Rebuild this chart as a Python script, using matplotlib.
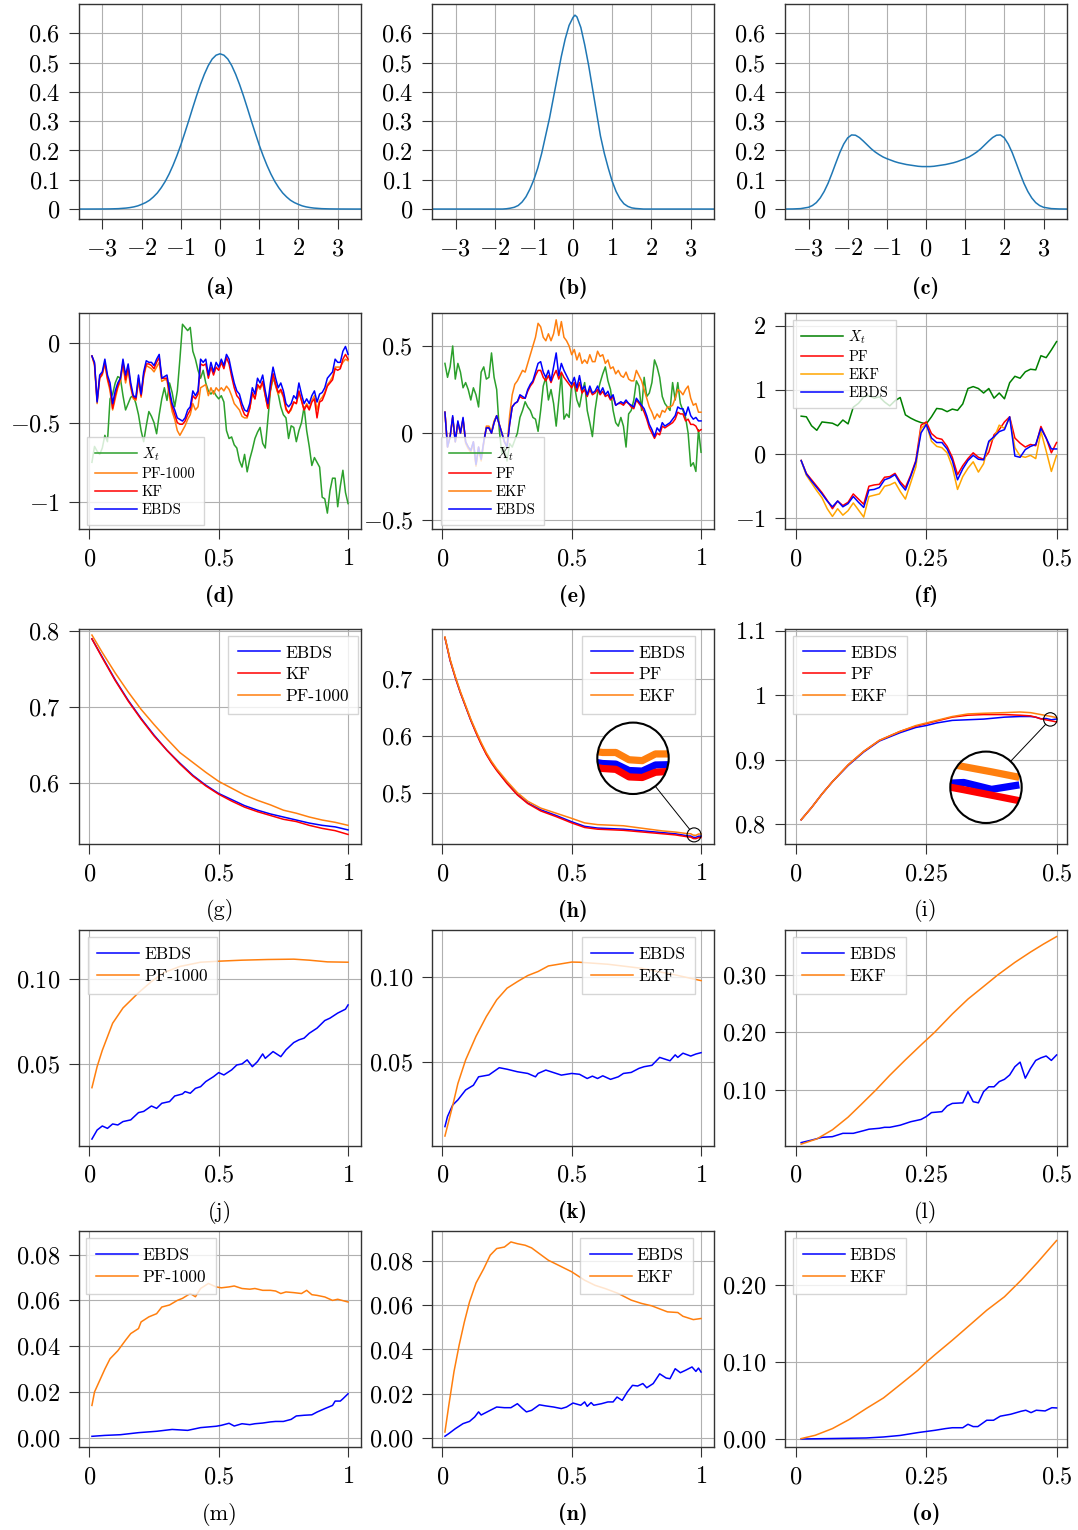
import numpy as np
import matplotlib.pyplot as plt
from matplotlib.patches import Circle, Ellipse
from matplotlib.lines import Line2D

plt.rcParams['font.family'] = 'serif'
plt.rcParams['font.serif'] = ['cmr10', 'DejaVu Serif']
plt.rcParams['mathtext.fontset'] = 'cm'
plt.rcParams['axes.formatter.use_mathtext'] = True

W, H = 1078, 1530

# ---------------- row 1: densities ----------------
a_x = [-3.6, -3.4, -3.2, -3.0, -2.8, -2.6, -2.4, -2.3, -2.2, -2.1, -2.0, -1.9, -1.8, -1.7, -1.6,
       -1.5, -1.4, -1.3, -1.2, -1.1, -1.0, -0.9, -0.8, -0.7, -0.6, -0.5, -0.4, -0.3, -0.2, -0.1,
       0.0, 0.1, 0.2, 0.3, 0.4, 0.5, 0.6, 0.7, 0.8, 0.9, 1.0, 1.1, 1.2, 1.3, 1.4, 1.5, 1.6, 1.7,
       1.8, 1.9, 2.0, 2.1, 2.2, 2.3, 2.4, 2.6, 2.8, 3.0, 3.2, 3.4, 3.6]
dens_a = [0, 0, 0.0001, 0.0002, 0.0005, 0.0013, 0.0033, 0.0050, 0.0074, 0.0108, 0.016, 0.022,
          0.030, 0.0414, 0.055, 0.0729, 0.094, 0.1194, 0.149, 0.1823, 0.219, 0.2594, 0.301,
          0.3441, 0.386, 0.4251, 0.460, 0.4896, 0.512, 0.5253, 0.530, 0.5253, 0.512, 0.4896,
          0.460, 0.4251, 0.386, 0.3441, 0.301, 0.2594, 0.219, 0.1823, 0.149, 0.1194, 0.094,
          0.0729, 0.055, 0.0414, 0.030, 0.022, 0.016, 0.0108, 0.0074, 0.0050, 0.0033, 0.0013,
          0.0005, 0.0002, 0.0001, 0, 0]
b_x = [-3.6, -3.0, -2.4, -2.0, -1.8, -1.7, -1.6, -1.5, -1.4, -1.3, -1.2, -1.1, -1.0, -0.9, -0.8,
       -0.7, -0.6, -0.5, -0.4, -0.3, -0.2, -0.1, 0.0, 0.05, 0.1, 0.2, 0.3, 0.4, 0.5, 0.6, 0.7,
       0.8, 0.9, 1.0, 1.1, 1.2, 1.3, 1.4, 1.5, 1.6, 1.7, 1.8, 2.0, 2.4, 3.0, 3.6]
dens_b = [0, 0, 0, 0, 0.0, 0.001, 0.003, 0.006, 0.012, 0.024, 0.042, 0.068, 0.10, 0.14, 0.19,
          0.25, 0.31, 0.38, 0.45, 0.52, 0.58, 0.627, 0.654, 0.662, 0.656, 0.62, 0.56, 0.49, 0.41,
          0.33, 0.25, 0.19, 0.14, 0.095, 0.06, 0.035, 0.018, 0.009, 0.004, 0.002, 0.001, 0.0,
          0, 0, 0, 0]
c_x = [-3.6, -3.4, -3.2, -3.0, -2.9, -2.8, -2.7, -2.6, -2.5, -2.4, -2.3, -2.2, -2.1, -2.0, -1.9,
       -1.8, -1.7, -1.6, -1.5, -1.4, -1.3, -1.2, -1.1, -1.0, -0.9, -0.8, -0.7, -0.6, -0.5, -0.4,
       -0.3, -0.2, -0.1, 0.0, 0.1, 0.2, 0.3, 0.4, 0.5, 0.6, 0.7, 0.8, 0.9, 1.0, 1.1, 1.2, 1.3,
       1.4, 1.5, 1.6, 1.7, 1.8, 1.9, 2.0, 2.1, 2.2, 2.3, 2.4, 2.5, 2.6, 2.7, 2.8, 2.9, 3.0, 3.2,
       3.4, 3.6]
dens_c = [0, 0.0003, 0.0015, 0.006, 0.012, 0.022, 0.038, 0.060, 0.088, 0.122, 0.158, 0.193,
          0.222, 0.243, 0.253, 0.252, 0.244, 0.232, 0.219, 0.206, 0.195, 0.186, 0.178, 0.172,
          0.167, 0.162, 0.158, 0.155, 0.152, 0.150, 0.148, 0.146, 0.145, 0.145, 0.145, 0.146,
          0.148, 0.150, 0.152, 0.155, 0.158, 0.162, 0.167, 0.172, 0.178, 0.186, 0.195, 0.206,
          0.219, 0.232, 0.244, 0.252, 0.253, 0.243, 0.222, 0.193, 0.158, 0.122, 0.088, 0.060,
          0.038, 0.022, 0.012, 0.006, 0.0015, 0.0003, 0]

# ---------------- row 2: trajectories ----------------
t100 = np.linspace(0.01, 1.0, 100)
t50 = np.linspace(0.01, 0.5, 50)

d_xt = [-0.75, -0.65, -0.68, -0.70, -0.66, -0.58, -0.62, -0.35, -0.32, -0.25,
        -0.21, -0.22, -0.33, -0.42, -0.38, -0.34, -0.33, -0.38, -0.45, -0.55,
        -0.62, -0.52, -0.43, -0.46, -0.50, -0.57, -0.45, -0.35, -0.28, -0.36,
        -0.25, -0.31, -0.40, -0.30, -0.10, 0.12, 0.10, 0.08, 0.10, -0.05,
        -0.10, -0.17, -0.22, -0.17, -0.25, -0.30, -0.32, -0.30, -0.33, -0.35,
        -0.33, -0.37, -0.55, -0.60, -0.59, -0.64, -0.66, -0.74, -0.78, -0.70,
        -0.81, -0.73, -0.67, -0.60, -0.56, -0.53, -0.63, -0.66, -0.48, -0.30,
        -0.22, -0.26, -0.32, -0.40, -0.45, -0.47, -0.60, -0.52, -0.53, -0.62,
        -0.55, -0.50, -0.40, -0.55, -0.65, -0.77, -0.72, -0.75, -0.78, -0.97,
        -0.98, -1.07, -0.93, -0.85, -0.85, -1.03, -0.90, -0.80, -0.94, -1.01]
d_ebds = [-0.08, -0.12, -0.37, -0.20, -0.18, -0.10, -0.20, -0.25, -0.38, -0.30,
          -0.25, -0.22, -0.10, -0.20, -0.13, -0.25, -0.33, -0.34, -0.20, -0.32,
          -0.18, -0.11, -0.12, -0.12, -0.14, -0.10, -0.07, -0.22, -0.21, -0.20,
          -0.30, -0.38, -0.42, -0.47, -0.48, -0.49, -0.47, -0.42, -0.40, -0.30,
          -0.33, -0.30, -0.10, -0.12, -0.10, -0.20, -0.12, -0.18, -0.12, -0.15,
          -0.10, -0.14, -0.07, -0.10, -0.18, -0.25, -0.30, -0.32, -0.38, -0.42,
          -0.43, -0.38, -0.28, -0.32, -0.22, -0.25, -0.20, -0.30, -0.38, -0.25,
          -0.15, -0.22, -0.28, -0.25, -0.30, -0.38, -0.40, -0.38, -0.33, -0.35,
          -0.25, -0.32, -0.38, -0.35, -0.38, -0.33, -0.30, -0.37, -0.32, -0.31,
          -0.28, -0.22, -0.20, -0.18, -0.10, -0.12, -0.12, -0.05, -0.02, -0.07]
d_kf = [-0.08, -0.13, -0.36, -0.22, -0.19, -0.12, -0.22, -0.28, -0.41, -0.33,
        -0.27, -0.22, -0.12, -0.23, -0.15, -0.27, -0.34, -0.35, -0.22, -0.33,
        -0.20, -0.13, -0.13, -0.14, -0.16, -0.12, -0.09, -0.22, -0.22, -0.22,
        -0.32, -0.40, -0.45, -0.50, -0.51, -0.51, -0.49, -0.45, -0.42, -0.33,
        -0.35, -0.32, -0.13, -0.14, -0.13, -0.22, -0.15, -0.20, -0.15, -0.17,
        -0.12, -0.16, -0.09, -0.13, -0.21, -0.28, -0.33, -0.35, -0.41, -0.45,
        -0.46, -0.41, -0.31, -0.35, -0.26, -0.28, -0.24, -0.33, -0.41, -0.29,
        -0.19, -0.26, -0.31, -0.29, -0.33, -0.41, -0.44, -0.41, -0.37, -0.38,
        -0.30, -0.36, -0.42, -0.39, -0.42, -0.37, -0.35, -0.47, -0.37, -0.36,
        -0.32, -0.27, -0.25, -0.23, -0.16, -0.17, -0.16, -0.10, -0.07, -0.10]
d_pf = [-0.08, -0.14, -0.38, -0.22, -0.20, -0.13, -0.23, -0.30, -0.42, -0.35,
        -0.28, -0.24, -0.14, -0.25, -0.17, -0.28, -0.35, -0.36, -0.24, -0.34,
        -0.21, -0.14, -0.15, -0.16, -0.18, -0.15, -0.12, -0.24, -0.23, -0.23,
        -0.34, -0.43, -0.48, -0.55, -0.58, -0.55, -0.52, -0.48, -0.45, -0.38,
        -0.42, -0.40, -0.28, -0.27, -0.26, -0.33, -0.28, -0.32, -0.28, -0.30,
        -0.28, -0.30, -0.27, -0.29, -0.33, -0.38, -0.40, -0.42, -0.46, -0.47,
        -0.47, -0.41, -0.32, -0.35, -0.27, -0.29, -0.25, -0.33, -0.41, -0.29,
        -0.20, -0.27, -0.32, -0.30, -0.34, -0.42, -0.44, -0.42, -0.37, -0.38,
        -0.31, -0.36, -0.42, -0.38, -0.41, -0.36, -0.33, -0.42, -0.36, -0.34,
        -0.31, -0.26, -0.24, -0.21, -0.15, -0.15, -0.15, -0.12, -0.10, -0.11]

e_xt = [0.40, 0.32, 0.38, 0.50, 0.31, 0.40, 0.35, 0.26, 0.29, 0.25,
        0.19, 0.26, 0.22, 0.15, 0.35, 0.38, 0.31, 0.32, 0.46, 0.32,
        0.25, 0.02, -0.12, -0.08, -0.16, -0.06, -0.08, -0.04, 0.00, 0.09,
        0.13, 0.18, 0.15, 0.13, 0.09, 0.08, 0.01, 0.13, 0.27, 0.32,
        0.19, 0.25, 0.17, 0.04, 0.19, 0.34, 0.08, 0.11, 0.09, 0.29,
        0.28, 0.19, 0.15, 0.23, 0.29, 0.13, 0.06, -0.02, 0.13, 0.23,
        0.29, 0.34, 0.38, 0.30, 0.25, 0.13, 0.06, 0.04, 0.09, 0.04,
        -0.08, 0.11, 0.13, 0.19, 0.30, 0.27, 0.13, 0.32, 0.21, 0.23,
        0.29, 0.42, 0.38, 0.32, 0.21, 0.17, 0.15, 0.13, 0.29, 0.19,
        0.29, 0.17, 0.13, 0.09, 0.00, -0.19, -0.17, -0.22, 0.02, -0.11]
e_ebds = [0.12, -0.08, -0.02, 0.10, -0.05, 0.07, 0.00, 0.09, -0.05, -0.08,
          -0.10, -0.05, -0.18, -0.08, -0.15, -0.05, 0.03, 0.03, 0.00, 0.06,
          0.10, 0.05, 0.00, -0.05, -0.08, 0.05, 0.15, 0.17, 0.18, 0.22,
          0.21, 0.20, 0.25, 0.28, 0.30, 0.35, 0.40, 0.41, 0.35, 0.32,
          0.36, 0.30, 0.38, 0.46, 0.33, 0.40, 0.36, 0.33, 0.30, 0.28,
          0.32, 0.26, 0.33, 0.25, 0.27, 0.22, 0.27, 0.23, 0.24, 0.27,
          0.23, 0.26, 0.22, 0.24, 0.20, 0.22, 0.16, 0.17, 0.18, 0.17,
          0.19, 0.17, 0.16, 0.15, 0.20, 0.18, 0.16, 0.14, 0.10, 0.05,
          0.02, -0.02, 0.03, 0.01, 0.06, 0.04, 0.05, 0.06, 0.08, 0.10,
          0.15, 0.14, 0.14, 0.10, 0.15, 0.10, 0.08, 0.09, 0.07, 0.07]
e_pf = [0.12, -0.08, -0.02, 0.09, -0.05, 0.06, 0.00, 0.08, -0.05, -0.08,
        -0.10, -0.05, -0.18, -0.08, -0.15, -0.05, 0.03, 0.03, 0.00, 0.06,
        0.10, 0.05, 0.00, -0.05, -0.08, 0.05, 0.15, 0.17, 0.18, 0.21,
        0.20, 0.20, 0.24, 0.27, 0.29, 0.33, 0.36, 0.36, 0.32, 0.30,
        0.33, 0.29, 0.33, 0.36, 0.31, 0.35, 0.32, 0.30, 0.28, 0.26,
        0.29, 0.24, 0.29, 0.23, 0.25, 0.21, 0.25, 0.22, 0.23, 0.25,
        0.22, 0.24, 0.21, 0.22, 0.19, 0.21, 0.16, 0.17, 0.17, 0.16,
        0.18, 0.17, 0.15, 0.14, 0.19, 0.17, 0.15, 0.12, 0.08, 0.03,
        0.00, -0.03, 0.00, -0.01, 0.04, 0.03, 0.04, 0.05, 0.06, 0.08,
        0.12, 0.11, 0.11, 0.07, 0.08, 0.05, 0.05, 0.04, 0.01, 0.02]
e_ekf = [0.12, -0.08, -0.02, 0.09, -0.05, 0.06, 0.00, 0.08, -0.06, -0.09,
         -0.11, -0.06, -0.19, -0.09, -0.16, -0.06, 0.04, 0.04, 0.01, 0.07,
         0.10, 0.05, 0.00, -0.05, -0.08, 0.10, 0.22, 0.28, 0.30, 0.33,
         0.36, 0.35, 0.40, 0.45, 0.50, 0.55, 0.63, 0.61, 0.55, 0.53,
         0.57, 0.53, 0.57, 0.65, 0.56, 0.64, 0.55, 0.53, 0.50, 0.45,
         0.48, 0.42, 0.46, 0.40, 0.42, 0.40, 0.45, 0.41, 0.41, 0.47,
         0.44, 0.45, 0.40, 0.42, 0.37, 0.38, 0.34, 0.36, 0.33, 0.32,
         0.35, 0.31, 0.30, 0.30, 0.36, 0.33, 0.30, 0.25, 0.20, 0.15,
         0.12, 0.08, 0.11, 0.09, 0.13, 0.12, 0.15, 0.15, 0.16, 0.20,
         0.25, 0.24, 0.22, 0.25, 0.27, 0.20, 0.16, 0.17, 0.12, 0.12]

f_xt = [0.59, 0.58, 0.44, 0.37, 0.50, 0.49, 0.48, 0.44, 0.53, 0.47,
        0.73, 0.79, 0.89, 0.91, 0.87, 0.89, 0.81, 0.75, 0.83, 0.88,
        0.61, 0.56, 0.52, 0.49, 0.47, 0.58, 0.71, 0.70, 0.66, 0.70,
        0.68, 0.78, 1.02, 1.05, 1.02, 0.95, 1.02, 0.87, 0.95, 0.86,
        1.11, 1.21, 1.18, 1.28, 1.32, 1.31, 1.53, 1.50, 1.62, 1.75]
f_pf = [-0.10, -0.30, -0.40, -0.50, -0.60, -0.72, -0.85, -0.73, -0.80, -0.75,
        -0.62, -0.70, -0.78, -0.50, -0.48, -0.47, -0.36, -0.35, -0.30, -0.43,
        -0.52, -0.33, -0.10, 0.45, 0.50, 0.32, 0.25, 0.23, 0.12, -0.05,
        -0.32, -0.18, -0.07, 0.02, -0.05, -0.08, 0.03, 0.30, 0.38, 0.50,
        0.58, 0.25, 0.17, 0.11, 0.15, 0.13, 0.43, 0.25, 0.02, 0.18]
f_ekf = [-0.10, -0.33, -0.45, -0.57, -0.68, -0.85, -0.97, -0.85, -0.95, -0.88,
         -0.76, -0.87, -0.98, -0.66, -0.64, -0.62, -0.50, -0.48, -0.44, -0.58,
         -0.70, -0.45, -0.20, 0.40, 0.47, 0.20, 0.12, 0.10, 0.02, -0.20,
         -0.55, -0.35, -0.22, -0.12, -0.28, -0.15, 0.18, 0.25, 0.45, 0.40,
         0.57, 0.10, -0.03, -0.05, -0.02, -0.07, 0.35, 0.05, -0.27, -0.02]
f_ebds = [-0.10, -0.31, -0.42, -0.52, -0.62, -0.73, -0.82, -0.73, -0.82, -0.77,
          -0.66, -0.75, -0.83, -0.56, -0.55, -0.52, -0.40, -0.37, -0.32, -0.46,
          -0.56, -0.35, -0.12, 0.33, 0.46, 0.25, 0.18, 0.18, 0.08, -0.10,
          -0.40, -0.23, -0.10, -0.02, -0.08, -0.09, 0.20, 0.27, 0.35, 0.38,
          0.58, -0.03, -0.05, 0.07, 0.12, 0.15, 0.40, 0.25, 0.08, 0.08]

# ---------------- row 3: variance curves ----------------
g_x = [0.01, 0.05, 0.10, 0.15, 0.20, 0.25, 0.30, 0.35, 0.40, 0.45, 0.50,
       0.55, 0.60, 0.65, 0.70, 0.75, 0.80, 0.85, 0.90, 0.95, 1.00]
g_ebds = [0.790, 0.766, 0.736, 0.709, 0.685, 0.663, 0.643, 0.626, 0.610, 0.597, 0.586,
          0.578, 0.570, 0.564, 0.559, 0.555, 0.551, 0.547, 0.544, 0.542, 0.538]
g_kf = [0.790, 0.765, 0.735, 0.708, 0.684, 0.662, 0.643, 0.625, 0.609, 0.596, 0.585,
        0.576, 0.568, 0.562, 0.557, 0.552, 0.549, 0.544, 0.540, 0.537, 0.532]
g_pf = [0.795, 0.772, 0.745, 0.720, 0.697, 0.677, 0.658, 0.640, 0.627, 0.614, 0.602,
        0.593, 0.584, 0.577, 0.571, 0.564, 0.560, 0.555, 0.551, 0.548, 0.544]

h_x = [0.01, 0.03, 0.05, 0.07, 0.09, 0.11, 0.13, 0.15, 0.17, 0.19, 0.21, 0.25, 0.29, 0.33,
       0.38, 0.44, 0.50, 0.55, 0.60, 0.65, 0.70, 0.75, 0.80, 0.85, 0.90, 0.95, 0.96, 0.97,
       0.98, 0.99, 1.00]
h_ebds = [0.773, 0.733, 0.703, 0.676, 0.652, 0.628, 0.607, 0.587, 0.569, 0.554, 0.541, 0.518,
          0.498, 0.483, 0.471, 0.461, 0.450, 0.442, 0.439, 0.438, 0.437, 0.435, 0.433, 0.431,
          0.429, 0.4252, 0.4250, 0.4228, 0.4226, 0.4247, 0.4248]
h_pf = [0.773, 0.733, 0.703, 0.676, 0.652, 0.628, 0.606, 0.586, 0.568, 0.553, 0.540, 0.517,
        0.497, 0.482, 0.469, 0.459, 0.448, 0.440, 0.437, 0.436, 0.435, 0.433, 0.431, 0.429,
        0.427, 0.4235, 0.4232, 0.4206, 0.4204, 0.4222, 0.4225]
h_ekf = [0.774, 0.735, 0.705, 0.678, 0.654, 0.630, 0.609, 0.589, 0.571, 0.556, 0.543, 0.521,
         0.501, 0.486, 0.474, 0.465, 0.456, 0.448, 0.445, 0.444, 0.443, 0.440, 0.437, 0.434,
         0.432, 0.4290, 0.4290, 0.4265, 0.4262, 0.4285, 0.4285]

i_x = [0.01, 0.03, 0.05, 0.07, 0.10, 0.13, 0.16, 0.20, 0.23, 0.25, 0.27, 0.30, 0.33, 0.36,
       0.40, 0.43, 0.45, 0.46, 0.47, 0.48, 0.49, 0.50]
i_ebds = [0.807, 0.826, 0.847, 0.866, 0.891, 0.912, 0.929, 0.942, 0.950, 0.953, 0.957, 0.961,
          0.962, 0.963, 0.966, 0.967, 0.967, 0.966, 0.9635, 0.9639, 0.9619, 0.9632]
i_pf = [0.807, 0.826, 0.847, 0.866, 0.892, 0.913, 0.930, 0.944, 0.952, 0.956, 0.960, 0.966,
        0.969, 0.970, 0.970, 0.969, 0.968, 0.966, 0.9633, 0.9618, 0.9602, 0.9586]
i_ekf = [0.807, 0.826, 0.847, 0.866, 0.892, 0.913, 0.930, 0.944, 0.953, 0.957, 0.961, 0.967,
         0.971, 0.972, 0.973, 0.974, 0.973, 0.9715, 0.9700, 0.9685, 0.9670, 0.9654]

# ---------------- row 4 ----------------
j_pf_x = [0.01, 0.03, 0.05, 0.07, 0.09, 0.13, 0.19, 0.24, 0.29, 0.35, 0.43, 0.50, 0.59,
          0.69, 0.79, 0.85, 0.92, 1.00]
j_pf = [0.036, 0.0484, 0.058, 0.066, 0.074, 0.083, 0.092, 0.0986, 0.104, 0.1075, 0.110,
        0.1106, 0.1112, 0.1116, 0.1118, 0.1112, 0.1102, 0.110]
j_eb_x = [0.01, 0.03, 0.05, 0.07, 0.09, 0.11, 0.13, 0.16, 0.19, 0.21, 0.24, 0.26, 0.28, 0.31,
          0.33, 0.36, 0.37, 0.39, 0.41, 0.43, 0.45, 0.48, 0.50, 0.52, 0.55, 0.57, 0.59, 0.61,
          0.63, 0.65, 0.67, 0.68, 0.71, 0.74, 0.76, 0.79, 0.81, 0.83, 0.85, 0.88, 0.91, 0.93,
          0.96, 0.99, 1.00]
j_ebds = [0.0057, 0.011, 0.0134, 0.012, 0.0146, 0.014, 0.016, 0.017, 0.0213, 0.022, 0.0252,
          0.0238, 0.0268, 0.0278, 0.0311, 0.0323, 0.0337, 0.0327, 0.0356, 0.0366, 0.0396,
          0.0425, 0.0449, 0.0435, 0.0465, 0.0494, 0.050, 0.0524, 0.0484, 0.0514, 0.0559,
          0.0533, 0.0573, 0.0543, 0.0583, 0.0626, 0.0642, 0.0652, 0.0681, 0.0711, 0.0756,
          0.077, 0.080, 0.0823, 0.0848]

k_ekf_x = [0.01, 0.04, 0.06, 0.09, 0.13, 0.17, 0.21, 0.25, 0.29, 0.33, 0.37, 0.41, 0.50,
           0.53, 0.64, 0.77, 0.90, 1.00]
k_ekf = [0.0059, 0.024, 0.037, 0.051, 0.065, 0.0767, 0.0866, 0.0935, 0.0974, 0.101, 0.1034,
         0.1067, 0.109, 0.1089, 0.1077, 0.1053, 0.1014, 0.098]
k_eb_x = [0.01, 0.02, 0.04, 0.06, 0.09, 0.12, 0.14, 0.18, 0.22, 0.25, 0.29, 0.33, 0.36, 0.37,
          0.40, 0.44, 0.46, 0.50, 0.53, 0.56, 0.58, 0.60, 0.62, 0.65, 0.68, 0.70, 0.73, 0.76,
          0.78, 0.81, 0.84, 0.88, 0.90, 0.91, 0.93, 0.96, 0.98, 1.00]
k_ebds = [0.0115, 0.0175, 0.0243, 0.0273, 0.0332, 0.036, 0.041, 0.0421, 0.0464, 0.0455,
          0.044, 0.043, 0.041, 0.043, 0.045, 0.043, 0.042, 0.043, 0.0425, 0.040, 0.0414,
          0.040, 0.0416, 0.0395, 0.041, 0.043, 0.0436, 0.046, 0.047, 0.0478, 0.0525, 0.0505,
          0.054, 0.0525, 0.055, 0.0533, 0.0545, 0.0553]

l_ekf_x = [0.01, 0.04, 0.07, 0.10, 0.125, 0.154, 0.18, 0.21, 0.24, 0.266, 0.30, 0.33, 0.36,
           0.387, 0.42, 0.45, 0.475, 0.50]
l_ekf = [0.005, 0.014, 0.030, 0.052, 0.074, 0.100, 0.125, 0.152, 0.178, 0.200, 0.232, 0.258,
         0.280, 0.300, 0.322, 0.340, 0.354, 0.367]
l_eb_x = [0.01, 0.03, 0.05, 0.07, 0.09, 0.11, 0.13, 0.14, 0.16, 0.17, 0.18, 0.20, 0.21, 0.22,
          0.24, 0.25, 0.26, 0.28, 0.29, 0.30, 0.32, 0.33, 0.34, 0.35, 0.36, 0.37, 0.38, 0.39,
          0.40, 0.41, 0.42, 0.43, 0.44, 0.45, 0.46, 0.47, 0.48, 0.49, 0.50]
l_ebds = [0.0076, 0.012, 0.0168, 0.018, 0.0238, 0.0238, 0.0285, 0.031, 0.0326, 0.0343, 0.0343,
          0.038, 0.041, 0.044, 0.048, 0.053, 0.060, 0.0616, 0.0715, 0.076, 0.077, 0.0965,
          0.079, 0.077, 0.0965, 0.105, 0.105, 0.114, 0.118, 0.1256, 0.140, 0.148, 0.120,
          0.137, 0.151, 0.1555, 0.1587, 0.151, 0.1605]

# ---------------- row 5 ----------------
m_pf_x = [0.01, 0.02, 0.04, 0.06, 0.08, 0.11, 0.14, 0.16, 0.19, 0.20, 0.23, 0.26, 0.28, 0.31,
          0.34, 0.36, 0.39, 0.41, 0.43, 0.46, 0.49, 0.51, 0.54, 0.56, 0.59, 0.62, 0.64, 0.67,
          0.70, 0.72, 0.74, 0.76, 0.79, 0.82, 0.84, 0.86, 0.88, 0.91, 0.94, 0.96, 1.00]
m_pf = [0.0141, 0.020, 0.025, 0.030, 0.0345, 0.038, 0.0426, 0.0455, 0.0477, 0.0506, 0.0528,
        0.0542, 0.0571, 0.058, 0.060, 0.0609, 0.063, 0.0616, 0.0652, 0.0674, 0.0659, 0.0655,
        0.0659, 0.0663, 0.0652, 0.0649, 0.0652, 0.0644, 0.0644, 0.0641, 0.063, 0.0637, 0.0634,
        0.063, 0.0644, 0.0625, 0.0622, 0.0615, 0.060, 0.0605, 0.0593]
m_eb_x = [0.01, 0.06, 0.12, 0.19, 0.26, 0.32, 0.38, 0.43, 0.49, 0.51, 0.54, 0.56, 0.59, 0.62,
          0.64, 0.67, 0.70, 0.72, 0.75, 0.78, 0.80, 0.83, 0.86, 0.88, 0.91, 0.94, 0.95, 0.97,
          0.98, 1.00]
m_ebds = [0.0006, 0.001, 0.0013, 0.0022, 0.0028, 0.0036, 0.0032, 0.0044, 0.005, 0.0054,
          0.0063, 0.0051, 0.0061, 0.0057, 0.0061, 0.0064, 0.0069, 0.0071, 0.0071, 0.008,
          0.0095, 0.0098, 0.010, 0.0112, 0.0127, 0.0141, 0.016, 0.016, 0.017, 0.0192]

n_ekf_x = [0.01, 0.025, 0.045, 0.065, 0.085, 0.105, 0.13, 0.16, 0.185, 0.21, 0.24, 0.265,
           0.29, 0.32, 0.345, 0.375, 0.41, 0.45, 0.50, 0.55, 0.59, 0.63, 0.68, 0.73, 0.77,
           0.81, 0.83, 0.87, 0.91, 0.93, 0.97, 1.00]
n_ekf = [0.0027, 0.0148, 0.030, 0.042, 0.0524, 0.0615, 0.070, 0.0765, 0.0826, 0.0856, 0.0863,
         0.0886, 0.0878, 0.0871, 0.0859, 0.0833, 0.0803, 0.078, 0.0751, 0.0713, 0.069, 0.0675,
         0.0653, 0.0623, 0.0608, 0.0597, 0.0588, 0.057, 0.0567, 0.055, 0.0535, 0.054]
n_eb_x = [0.01, 0.025, 0.05, 0.08, 0.105, 0.125, 0.14, 0.15, 0.185, 0.21, 0.24, 0.265, 0.29,
          0.31, 0.325, 0.345, 0.375, 0.40, 0.43, 0.46, 0.48, 0.505, 0.535, 0.55, 0.56, 0.575,
          0.585, 0.615, 0.64, 0.66, 0.675, 0.695, 0.715, 0.735, 0.755, 0.775, 0.79, 0.815,
          0.84, 0.865, 0.88, 0.90, 0.92, 0.94, 0.965, 0.98, 0.99, 1.00]
n_ebds = [0.0008, 0.002, 0.0042, 0.0065, 0.0075, 0.0095, 0.0118, 0.0104, 0.0125, 0.014,
          0.0137, 0.0137, 0.0155, 0.0133, 0.0118, 0.0125, 0.015, 0.0145, 0.014, 0.0133,
          0.014, 0.0158, 0.0148, 0.0163, 0.0143, 0.016, 0.0148, 0.0155, 0.0163, 0.0163,
          0.0185, 0.017, 0.0208, 0.0238, 0.0235, 0.0246, 0.0227, 0.0246, 0.029, 0.0271,
          0.0268, 0.0313, 0.0295, 0.0306, 0.0321, 0.0301, 0.0316, 0.0298]

o_ekf_x = [0.01, 0.037, 0.07, 0.103, 0.135, 0.168, 0.20, 0.234, 0.25, 0.267, 0.30, 0.333,
           0.366, 0.40, 0.432, 0.464, 0.50]
o_ekf = [0.0009, 0.0052, 0.0139, 0.026, 0.040, 0.0537, 0.071, 0.0896, 0.100, 0.110, 0.1286,
         0.148, 0.1675, 0.185, 0.2065, 0.230, 0.258]
o_eb_x = [0.01, 0.07, 0.135, 0.168, 0.20, 0.234, 0.267, 0.287, 0.30, 0.32, 0.33, 0.34, 0.349,
          0.366, 0.379, 0.392, 0.412, 0.432, 0.441, 0.451, 0.461, 0.478, 0.491, 0.50]
o_ebds = [0.0004, 0.001, 0.0017, 0.003, 0.005, 0.0087, 0.0117, 0.0139, 0.015, 0.015, 0.0195,
          0.0165, 0.0165, 0.0247, 0.0247, 0.030, 0.0325, 0.0364, 0.0377, 0.0346, 0.0377,
          0.0368, 0.041, 0.0407]

TB, TO, TG = '#1f77b4', '#ff7f0e', '#2ca02c'

fig = plt.figure(figsize=(W / 100, H / 100), dpi=100)

cols = [(79, 361), (432, 714), (785, 1067)]
rows = [(4, 219.3), (313.3, 529.3), (629, 844.3), (930, 1146), (1231.3, 1447.3)]
cap_y = [288, 596, 911, 1212, 1514]


def make_ax(r, c):
    l, rr = cols[c]
    t, b = rows[r]
    ax = fig.add_axes([l / W, 1 - b / H, (rr - l) / W, (b - t) / H])
    ax.grid(True, color='#b0b0b0', lw=0.8)
    ax.set_axisbelow(True)
    for s in ax.spines.values():
        s.set_color('0.2')
        s.set_linewidth(1.0)
    ax.tick_params(direction='out', length=7.5, width=0.8, color='0.2',
                   labelsize=17.5, pad=6)
    return ax


def ticks(ax, xt, xl, yt, yl):
    ax.set_xticks(xt, ['$%s$' % s for s in xl])
    ax.set_yticks(yt, ['$%s$' % s for s in yl])


def caption(r, c, letter, bold):
    x = (cols[c][0] + cols[c][1]) / 2
    fig.text(x / W, 1 - cap_y[r] / H, '(%s)' % letter, ha='center', va='center',
             fontsize=16, family='cmb10' if bold else 'cmr10')


def legend(ax, fx, fy, size, spacing):
    px = size * 100 / 72
    ax.legend(loc='upper left', bbox_to_anchor=(fx, fy), borderaxespad=0, fontsize=size,
              fancybox=False, edgecolor='0.8', framealpha=0.8, handlelength=42 / px,
              handletextpad=5 / px, borderpad=0.55, labelspacing=spacing)


def zoom_circle(ax, series, cx, cy, small_r, big_c, big_r):
    p0 = ax.transData.transform((cx, cy))
    sx = ax.transData.transform((cx + 1, cy))[0] - p0[0]
    sy = ax.transData.transform((cx, cy + 1))[1] - p0[1]
    rx, ry = small_r / sx, small_r / sy
    ax.add_patch(Ellipse((cx, cy), 2 * rx, 2 * ry, fill=False, ec='black', lw=0.8, zorder=6))
    bx, by = big_c
    iax = fig.add_axes([(bx - big_r) / W, 1 - (by + big_r) / H, 2 * big_r / W, 2 * big_r / H])
    iax.set_xlim(cx - rx, cx + rx)
    iax.set_ylim(cy - ry, cy + ry)
    iax.axis('off')
    bg = Circle((0.5, 0.5), 0.5, transform=iax.transAxes, fc='white', ec='none', zorder=0)
    iax.add_patch(bg)
    for x, y, col in series:
        ln, = iax.plot(x, y, color=col, lw=5.2, solid_capstyle='butt')
        ln.set_clip_path(bg)
    iax.add_patch(Circle((0.5, 0.5), 0.5, transform=iax.transAxes, fill=False, ec='black',
                         lw=1.5, zorder=10, clip_on=False))
    # connector between the two circles (display pixels, origin bottom-left)
    bxd, byd = bx, H - by
    dx, dy = p0[0] - bxd, p0[1] - byd
    dist = np.hypot(dx, dy)
    ux, uy = dx / dist, dy / dist
    x1, y1 = bxd + ux * big_r, byd + uy * big_r
    x2, y2 = p0[0] - ux * small_r, p0[1] - uy * small_r
    fig.add_artist(Line2D([x1 / W, x2 / W], [y1 / H, y2 / H], transform=fig.transFigure,
                          color='black', lw=0.7))


dx_t = [-3, -2, -1, 0, 1, 2, 3]
dx_l = ['-3', '-2', '-1', '0', '1', '2', '3']
dy_t = [0, 0.1, 0.2, 0.3, 0.4, 0.5, 0.6]
dy_l = ['0', '0.1', '0.2', '0.3', '0.4', '0.5', '0.6']

# ---- row 1 ----
for c, (xx, yy, let) in enumerate([(a_x, dens_a, 'a'), (b_x, dens_b, 'b'),
                                    (c_x, dens_c, 'c')]):
    ax = make_ax(0, c)
    ax.plot(xx, yy, color=TB, lw=1.1)
    ax.set_xlim(-3.6, 3.6)
    ax.set_ylim(-0.035, 0.7)
    ticks(ax, dx_t, dx_l, dy_t, dy_l)
    caption(0, c, let, True)

x1_t, x1_l = [0, 0.5, 1], ['0', '0.5', '1']
x5_t, x5_l = [0, 0.25, 0.5], ['0', '0.25', '0.5']
XL1 = (-0.04, 1.05)
XL5 = (-0.021, 0.52)
S2, S3 = 0.3, 0.37

# ---- row 2 ----
ax = make_ax(1, 0)
ax.plot(t100, d_xt, color=TG, lw=1.1, label='$X_t$')
ax.plot(t100, d_pf, color=TO, lw=1.1, label='PF-1000')
ax.plot(t100, d_kf, color='red', lw=1.1, label='KF')
ax.plot(t100, d_ebds, color='blue', lw=1.1, label='EBDS')
ax.set_xlim(*XL1)
ax.set_ylim(-1.172, 0.189)
ticks(ax, x1_t, x1_l, [-1, -0.5, 0], ['-1', '-0.5', '0'])
legend(ax, 0.028, 0.426, 10.5, S2)
caption(1, 0, 'd', True)

ax = make_ax(1, 1)
ax.plot(t100, e_xt, color=TG, lw=1.1, label='$X_t$')
ax.plot(t100, e_pf, color='red', lw=1.1, label='PF')
ax.plot(t100, e_ekf, color=TO, lw=1.1, label='EKF')
ax.plot(t100, e_ebds, color='blue', lw=1.1, label='EBDS')
ax.set_xlim(*XL1)
ax.set_ylim(-0.552, 0.6875)
ticks(ax, x1_t, x1_l, [-0.5, 0, 0.5], ['-0.5', '0', '0.5'])
legend(ax, 0.031, 0.426, 10.5, S2)
caption(1, 1, 'e', True)

ax = make_ax(1, 2)
ax.plot(t50, f_xt, color='green', lw=1.1, label='$X_t$')
ax.plot(t50, f_pf, color='red', lw=1.1, label='PF')
ax.plot(t50, f_ekf, color='orange', lw=1.1, label='EKF')
ax.plot(t50, f_ebds, color='blue', lw=1.1, label='EBDS')
ax.set_xlim(*XL5)
ax.set_ylim(-1.17, 2.19)
ticks(ax, x5_t, x5_l, [-1, 0, 1, 2], ['-1', '0', '1', '2'])
legend(ax, 0.029, 0.968, 10.5, S2)
caption(1, 2, 'f', True)

# ---- row 3 ----
ax = make_ax(2, 0)
ax.plot(g_x, g_ebds, color='blue', lw=1.1, label='EBDS')
ax.plot(g_x, g_kf, color='red', lw=1.1, label='KF')
ax.plot(g_x, g_pf, color=TO, lw=1.1, label='PF-1000')
ax.set_xlim(*XL1)
ax.set_ylim(0.519, 0.803)
ticks(ax, x1_t, x1_l, [0.6, 0.7, 0.8], ['0.6', '0.7', '0.8'])
legend(ax, 0.530, 0.969, 12.5, S3)
caption(2, 0, 'g', False)

ax = make_ax(2, 1)
ax.plot(h_x, h_ebds, color='blue', lw=1.1, label='EBDS')
ax.plot(h_x, h_pf, color='red', lw=1.1, label='PF')
ax.plot(h_x, h_ekf, color=TO, lw=1.1, label='EKF')
ax.set_xlim(*XL1)
ax.set_ylim(0.4105, 0.788)
ticks(ax, x1_t, x1_l, [0.5, 0.6, 0.7], ['0.5', '0.6', '0.7'])
legend(ax, 0.531, 0.969, 12.5, S3)
caption(2, 1, 'h', True)
zoom_circle(ax, [(h_x, h_ekf, TO), (h_x, h_ebds, 'blue'), (h_x, h_pf, 'red')],
            0.973, 0.427, 7.0, (633, 758.3), 35.7)

ax = make_ax(2, 2)
ax.plot(i_x, i_ebds, color='blue', lw=1.1, label='EBDS')
ax.plot(i_x, i_pf, color='red', lw=1.1, label='PF')
ax.plot(i_x, i_ekf, color=TO, lw=1.1, label='EKF')
ax.set_xlim(*XL5)
ax.set_ylim(0.769, 1.1026)
ticks(ax, x5_t, x5_l, [0.8, 0.9, 1.0, 1.1], ['0.8', '0.9', '1', '1.1'])
legend(ax, 0.030, 0.969, 12.5, S3)
caption(2, 2, 'i', False)
zoom_circle(ax, [(i_x, i_ekf, TO), (i_x, i_ebds, 'blue'), (i_x, i_pf, 'red')],
            0.488, 0.9625, 6.7, (986, 787.3), 35.7)

# ---- row 4 ----
ax = make_ax(3, 0)
ax.plot(j_eb_x, j_ebds, color='blue', lw=1.1, label='EBDS')
ax.plot(j_pf_x, j_pf, color=TO, lw=1.1, label='PF-1000')
ax.set_xlim(*XL1)
ax.set_ylim(0.0016, 0.129)
ticks(ax, x1_t, x1_l, [0.05, 0.10], ['0.05', '0.10'])
legend(ax, 0.031, 0.966, 12.5, S3)
caption(3, 0, 'j', False)

ax = make_ax(3, 1)
ax.plot(k_eb_x, k_ebds, color='blue', lw=1.1, label='EBDS')
ax.plot(k_ekf_x, k_ekf, color=TO, lw=1.1, label='EKF')
ax.set_xlim(*XL1)
ax.set_ylim(0.0, 0.128)
ticks(ax, x1_t, x1_l, [0.05, 0.10], ['0.05', '0.10'])
legend(ax, 0.531, 0.966, 12.5, S3)
caption(3, 1, 'k', True)

ax = make_ax(3, 2)
ax.plot(l_eb_x, l_ebds, color='blue', lw=1.1, label='EBDS')
ax.plot(l_ekf_x, l_ekf, color=TO, lw=1.1, label='EKF')
ax.set_xlim(*XL5)
ax.set_ylim(0.0017, 0.3785)
ticks(ax, x5_t, x5_l, [0.10, 0.20, 0.30], ['0.10', '0.20', '0.30'])
legend(ax, 0.027, 0.966, 12.5, S3)
caption(3, 2, 'l', False)

# ---- row 5 ----
ax = make_ax(4, 0)
ax.plot(m_eb_x, m_ebds, color='blue', lw=1.1, label='EBDS')
ax.plot(m_pf_x, m_pf, color=TO, lw=1.1, label='PF-1000')
ax.set_xlim(*XL1)
ax.set_ylim(-0.0042, 0.0902)
ticks(ax, x1_t, x1_l, [0, 0.02, 0.04, 0.06, 0.08], ['0.00', '0.02', '0.04', '0.06', '0.08'])
legend(ax, 0.026, 0.968, 12.5, S3)
caption(4, 0, 'm', False)

ax = make_ax(4, 1)
ax.plot(n_eb_x, n_ebds, color='blue', lw=1.1, label='EBDS')
ax.plot(n_ekf_x, n_ekf, color=TO, lw=1.1, label='EKF')
ax.set_xlim(*XL1)
ax.set_ylim(-0.0042, 0.0934)
ticks(ax, x1_t, x1_l, [0, 0.02, 0.04, 0.06, 0.08], ['0.00', '0.02', '0.04', '0.06', '0.08'])
legend(ax, 0.526, 0.968, 12.5, S3)
caption(4, 1, 'n', True)

ax = make_ax(4, 2)
ax.plot(o_eb_x, o_ebds, color='blue', lw=1.1, label='EBDS')
ax.plot(o_ekf_x, o_ekf, color=TO, lw=1.1, label='EKF')
ax.set_xlim(*XL5)
ax.set_ylim(-0.0104, 0.270)
ticks(ax, x5_t, x5_l, [0, 0.10, 0.20], ['0.00', '0.10', '0.20'])
legend(ax, 0.029, 0.968, 12.5, S3)
caption(4, 2, 'o', True)

fig.savefig('out.png', dpi=100)
